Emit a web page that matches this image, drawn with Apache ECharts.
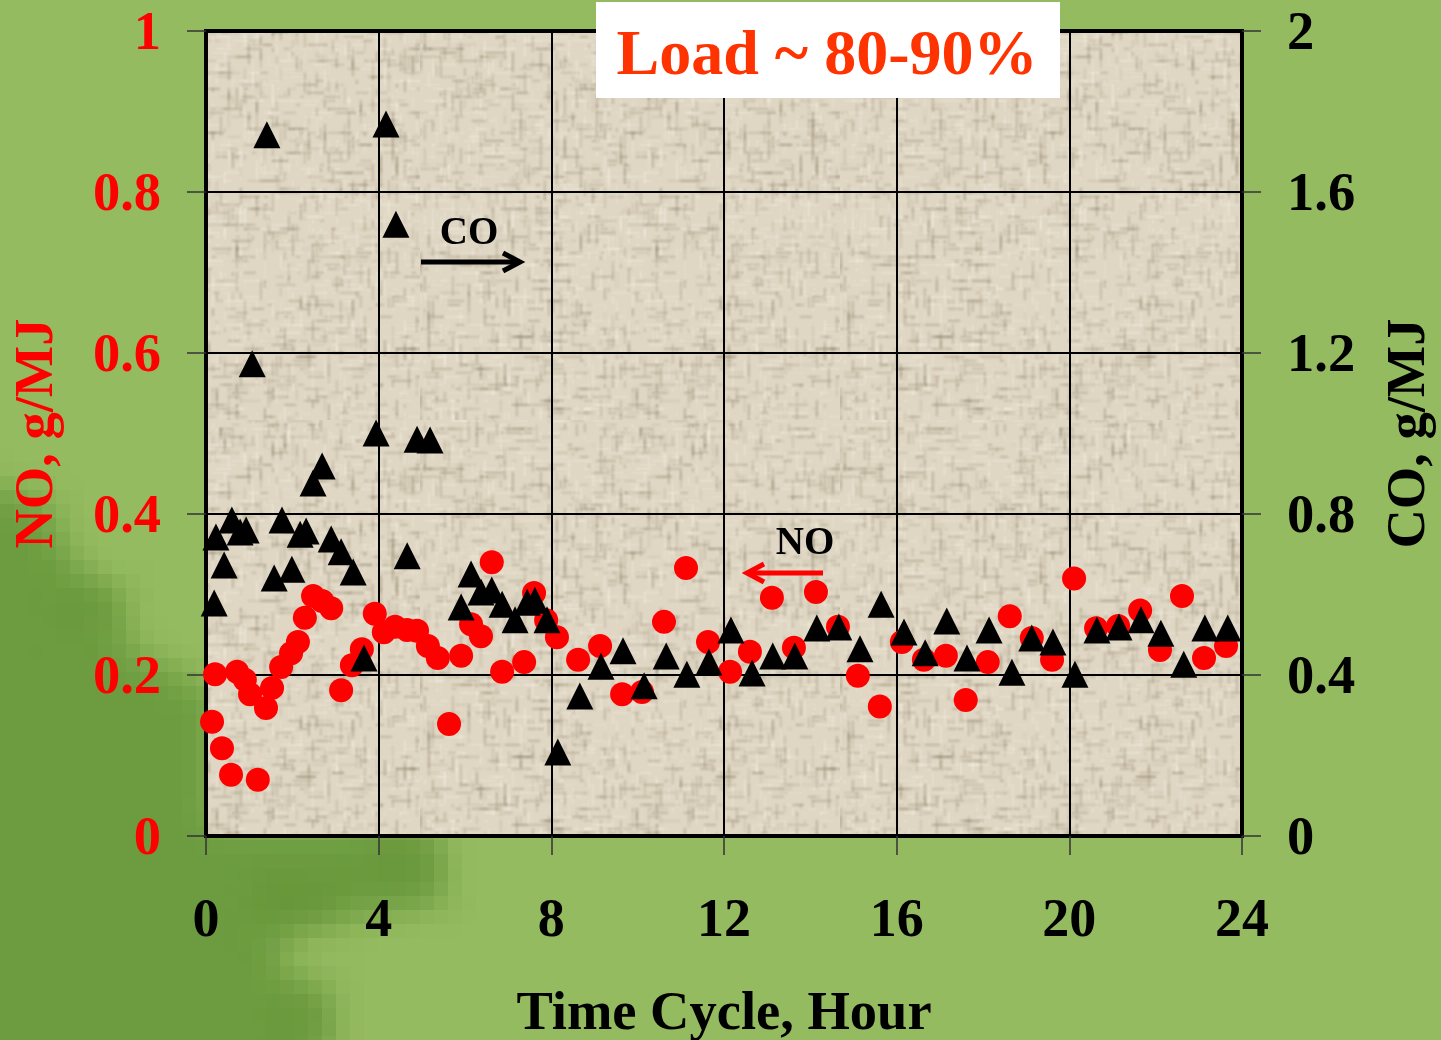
<!DOCTYPE html>
<html><head><meta charset="utf-8">
<style>
html,body{margin:0;padding:0;width:1441px;height:1040px;overflow:hidden;background:#95bb60}
#bg{position:absolute;left:0;top:0;width:1441px;height:1040px}
#c{position:absolute;left:0;top:0;width:1441px;height:1040px}
</style>
<script src="https://cdn.jsdelivr.net/npm/echarts@6/dist/echarts.min.js"></script>
</head><body>
<canvas id="bg" width="1441" height="1040"></canvas>
<div id="c"></div>
<script>
const noHours=[0.14,0.21,0.37,0.58,0.72,0.90,1.02,1.20,1.39,1.53,1.74,1.97,2.13,2.29,2.48,2.69,2.90,3.13,3.38,3.61,3.91,4.12,4.38,4.66,4.89,5.14,5.37,5.63,5.91,6.14,6.37,6.62,6.86,7.37,7.60,7.88,8.13,8.62,9.13,9.64,10.10,10.61,11.12,11.63,12.14,12.60,13.11,13.62,14.13,14.64,15.10,15.61,16.12,16.63,17.14,17.60,18.11,18.62,19.13,19.60,20.11,20.62,21.13,21.64,22.10,22.61,23.12,23.63];
const noValues=[0.142,0.201,0.109,0.076,0.204,0.194,0.176,0.070,0.159,0.184,0.210,0.227,0.241,0.271,0.298,0.292,0.283,0.181,0.212,0.232,0.276,0.253,0.260,0.256,0.255,0.236,0.221,0.139,0.224,0.263,0.248,0.340,0.204,0.216,0.302,0.268,0.247,0.219,0.236,0.176,0.179,0.266,0.333,0.241,0.204,0.229,0.296,0.234,0.303,0.260,0.199,0.161,0.241,0.219,0.224,0.169,0.216,0.273,0.246,0.219,0.320,0.258,0.261,0.280,0.231,0.298,0.221,0.236];
const coHours=[0.19,0.23,0.42,0.60,0.79,0.93,1.07,1.41,1.58,1.76,1.99,2.18,2.32,2.48,2.69,2.90,3.13,3.41,3.66,3.94,4.17,4.40,4.66,4.89,5.19,5.91,6.14,6.37,6.62,6.86,7.16,7.44,7.62,7.90,8.15,8.66,9.15,9.66,10.15,10.66,11.14,11.65,12.16,12.65,13.13,13.64,14.15,14.66,15.15,15.64,16.17,16.66,17.16,17.63,18.14,18.67,19.13,19.62,20.13,20.64,21.15,21.66,22.12,22.65,23.14,23.67];
const coValues=[0.579,0.743,0.673,0.785,0.755,0.760,1.173,1.742,0.641,0.785,0.663,0.750,0.758,0.877,0.919,0.738,0.706,0.656,0.442,1.001,1.769,1.520,0.696,0.986,0.984,0.569,0.651,0.606,0.611,0.576,0.537,0.581,0.586,0.537,0.209,0.348,0.422,0.460,0.373,0.447,0.402,0.432,0.512,0.405,0.447,0.447,0.517,0.519,0.465,0.576,0.507,0.455,0.534,0.442,0.512,0.407,0.492,0.482,0.402,0.512,0.519,0.537,0.504,0.427,0.517,0.517];
const titleText='Load ~ 80-90%';
const xName='Time Cycle, Hour', yLeftName='NO, g/MJ', yRightName='CO, g/MJ';

// page backdrop: soft shapes drawn small, enlarged without smoothing for the blocky look
(function(){
  const b=document.getElementById('bg').getContext('2d');
  const k=14,lo=document.createElement('canvas');lo.width=104;lo.height=75;
  const g=lo.getContext('2d');
  g.fillStyle='#95bb60';g.fillRect(0,0,lo.width,lo.height);
  g.filter='blur(1px)';
  const poly=(pts,col)=>{g.fillStyle=col;g.beginPath();pts.forEach((p,i)=>i?g.lineTo(p[0]/k,p[1]/k):g.moveTo(p[0]/k,p[1]/k));g.closePath();g.fill();};
  poly([[-60,470],[50,505],[70,560],[110,600],[130,650],[215,690],[215,825],[430,825],[445,900],[320,920],[275,950],[345,1100],[-60,1100]],'#6d9c40');
  poly([[60,590],[120,590],[120,625],[60,625]],'#6a973c');
  poly([[250,880],[340,880],[340,915],[250,915]],'#679539');
  poly([[370,840],[430,840],[430,890],[370,890]],'#69973c');
  poly([[270,985],[330,985],[330,1050],[270,1050]],'#6a983d');
  b.imageSmoothingEnabled=false;
  b.drawImage(lo,0,0,104*k,75*k);
})();

// fine woven tile for the plot area
function linen(){
  const s=420,c=document.createElement('canvas');c.width=c.height=s;
  const t=c.getContext('2d');t.fillStyle='#dfd6c3';t.fillRect(0,0,s,s);
  t.filter='blur(0.9px)';
  let v=98765;const r=()=>(v=(v*1103515245+12345)&0x7fffffff)/0x7fffffff;
  const lat=4;
  for(let i=0;i<3600;i++){
    const x=(r()*s/lat|0)*lat,y=(r()*s/lat|0)*lat,l=(1+(r()*5|0))*lat,h=r()<.5,d=r()<.5;
    t.fillStyle=d?`rgba(125,112,85,${.12+r()*.28})`:`rgba(248,244,232,${.15+r()*.35})`;
    if(h)t.fillRect(x,y,l,1.6);else t.fillRect(x,y,1.6,l);
  }
  return c;
}

const chart=echarts.init(document.getElementById('c'),null,{renderer:'canvas',width:1441,height:1040});
const serif='"Liberation Serif","Times New Roman",serif';
const tick=()=>({show:true,length:19,lineStyle:{color:'#333',width:1.5}});
const nudged=(color)=>({
  formatter:v=>`{a|${v}}`,
  rich:{a:{color,fontFamily:serif,fontWeight:'bold',fontSize:54.5,padding:[8,0,0,0]}}
});
chart.setOption({
  backgroundColor:'transparent',
  animation:false,
  grid:{left:206,top:31,width:1036,height:805,show:true,outerBoundsMode:'none',containLabel:false,borderColor:'#000',borderWidth:4,
        backgroundColor:{image:linen(),repeat:'repeat'}},
  xAxis:{type:'value',min:0,max:24,interval:4,
    axisLine:{show:false},axisTick:tick(),
    splitLine:{show:true,lineStyle:{color:'#000',width:2}},
    axisLabel:{color:'#000',fontFamily:serif,fontWeight:'bold',fontSize:54,margin:59},
    name:xName,nameLocation:'middle',nameGap:151,
    nameTextStyle:{color:'#000',fontFamily:serif,fontWeight:'bold',fontSize:54.5}},
  yAxis:[
    {type:'value',min:0,max:1,interval:0.2,position:'left',
     axisLine:{show:false},axisTick:tick(),
     splitLine:{show:true,lineStyle:{color:'#000',width:2}},
     axisLabel:Object.assign({margin:45},nudged('#ff0000')),
     name:yLeftName,nameLocation:'middle',nameGap:141,nameRotate:90,
     nameTextStyle:{color:'#ff0000',fontFamily:serif,fontWeight:'bold',fontSize:54.5}},
    {type:'value',min:0,max:2,interval:0.4,position:'right',
     axisLine:{show:false},axisTick:tick(),splitLine:{show:false},
     axisLabel:Object.assign({margin:45},nudged('#000')),
     name:yRightName,nameLocation:'middle',nameGap:140,nameRotate:90,
     nameTextStyle:{color:'#000',fontFamily:serif,fontWeight:'bold',fontSize:54.5}}
  ],
  series:[
    {name:'NO',type:'scatter',yAxisIndex:0,symbol:'circle',symbolSize:24,z:3,
     itemStyle:{color:'#ff0000',opacity:1},data:noHours.map((h,i)=>[h,noValues[i]])},
    {name:'CO',type:'scatter',yAxisIndex:1,symbol:'triangle',symbolSize:[27,27],z:4,
     itemStyle:{color:'#000',opacity:1},data:coHours.map((h,i)=>[h,coValues[i]])}
  ],
  graphic:[
    {type:'rect',z:20,shape:{x:596,y:2,width:464,height:96},style:{fill:'#fff'}},
    {type:'text',z:21,x:827,y:57,style:{text:titleText,fill:'#ff3300',font:`bold 64px ${serif}`,textAlign:'center',textVerticalAlign:'middle'}},
    {type:'text',z:21,x:469,y:234,style:{text:'CO',fill:'#000',font:`bold 39px ${serif}`,textAlign:'center',textVerticalAlign:'middle'}},
    {type:'line',z:21,shape:{x1:421,y1:262,x2:520,y2:262},style:{stroke:'#000',lineWidth:5}},
    {type:'polyline',z:21,shape:{points:[[503,253],[520,262],[503,271]]},style:{stroke:'#000',fill:null,lineWidth:5}},
    {type:'text',z:21,x:805,y:544,style:{text:'NO',fill:'#000',font:`bold 39px ${serif}`,textAlign:'center',textVerticalAlign:'middle'}},
    {type:'line',z:21,shape:{x1:823,y1:573,x2:747,y2:573},style:{stroke:'#ff0000',lineWidth:5}},
    {type:'polyline',z:21,shape:{points:[[764,564],[747,573],[764,582]]},style:{stroke:'#ff0000',fill:null,lineWidth:5}}
  ]
});
</script>
</body></html>
